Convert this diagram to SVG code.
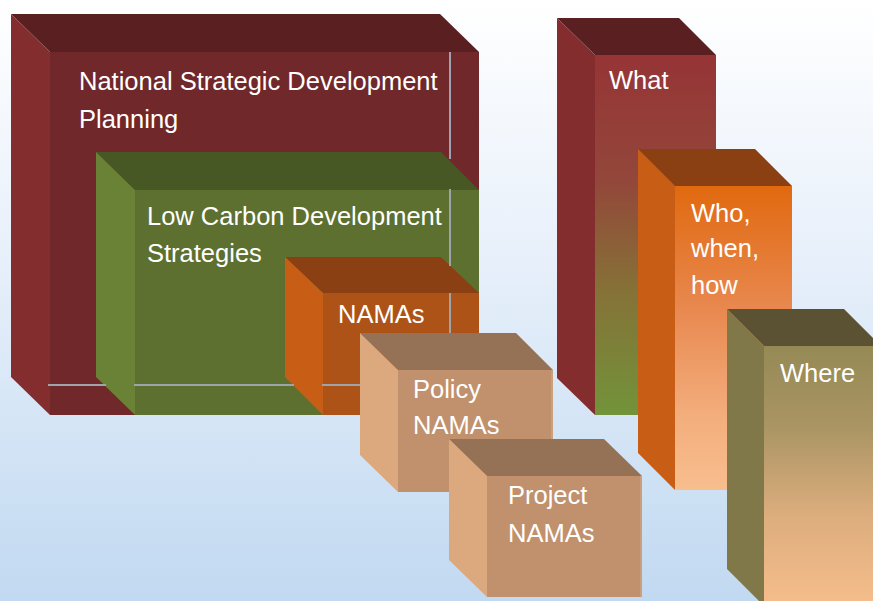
<svg xmlns="http://www.w3.org/2000/svg" width="873" height="601" viewBox="0 0 873 601">
  <defs>
    <linearGradient id="bg" x1="0" y1="0" x2="0" y2="1">
      <stop offset="0" stop-color="#ffffff"/>
      <stop offset="0.45" stop-color="#e6effa"/>
      <stop offset="1" stop-color="#c1d9f1"/>
    </linearGradient>
    <linearGradient id="gWhat" x1="0" y1="0" x2="0" y2="1">
      <stop offset="0" stop-color="#963436"/>
      <stop offset="0.35" stop-color="#93473a"/>
      <stop offset="0.65" stop-color="#867137"/>
      <stop offset="1" stop-color="#72933a"/>
    </linearGradient>
    <linearGradient id="gWho" x1="0" y1="0" x2="0" y2="1">
      <stop offset="0" stop-color="#e1690f"/>
      <stop offset="0.4" stop-color="#e8884f"/>
      <stop offset="0.75" stop-color="#f3ad7c"/>
      <stop offset="1" stop-color="#f8be8e"/>
    </linearGradient>
    <linearGradient id="gWhere" x1="0" y1="0" x2="0" y2="1">
      <stop offset="0" stop-color="#958a55"/>
      <stop offset="0.3" stop-color="#a99463"/>
      <stop offset="0.65" stop-color="#dcad7d"/>
      <stop offset="1" stop-color="#f7bd8c"/>
    </linearGradient>
    <style>
      .lbl { fill: #ffffff; font-family: "Liberation Sans", Arial, sans-serif; font-size: 25.5px; }
      .guide { stroke: #9ea4ab; stroke-width: 2; fill: none; }
      .red-top { fill: #5a1f20; } .red-left { fill: #842d2e; } .red-front { fill: #70282a; }
      .grn-top { fill: #475825; } .grn-left { fill: #6a8235; } .grn-front { fill: #5d7030; }
      .org-top { fill: #8a4012; } .org-left { fill: #c85e16; } .org-front { fill: #ad5317; }
      .tan-top { fill: #957256; } .tan-left { fill: #dca97e; } .tan-front { fill: #c0916c; }
      .tan-edge { stroke: #caa07c; stroke-width: 2; fill: none; }
      .olv-top { fill: #5a5233; } .olv-left { fill: #807849; }
    </style>
  </defs>

  <rect x="0" y="0" width="873" height="601" fill="url(#bg)"/>

  <g id="node-national">
    <polygon class="red-top" points="11,14 440,14 479,52 50,52"/>
    <polygon class="red-left" points="11,14 50,52 50,415 11,377"/>
    <rect class="red-front" x="50" y="52" width="429" height="363"/>
    <text class="lbl" x="79" y="90">National Strategic Development</text>
    <text class="lbl" x="79" y="128">Planning</text>
  </g>

  <g id="node-lowcarbon">
    <polygon class="grn-top" points="96,152 441,152 479,190 135,190"/>
    <polygon class="grn-left" points="96,152 135,190 135,415 96,377"/>
    <rect class="grn-front" x="135" y="190" width="344" height="225"/>
    <text class="lbl" x="147" y="225">Low Carbon Development</text>
    <text class="lbl" x="147" y="262">Strategies</text>
  </g>

  <g id="node-namas">
    <polygon class="org-top" points="285,257 441,257 479,293 323,293"/>
    <polygon class="org-left" points="285,257 323,293 323,415 285,377"/>
    <rect class="org-front" x="323" y="293" width="156" height="122"/>
    <text class="lbl" x="338" y="323">NAMAs</text>
  </g>

  <g id="connectors">
    <line class="guide" x1="450" y1="52" x2="450" y2="159"/>
    <line class="guide" x1="450" y1="189" x2="450" y2="266"/>
    <line class="guide" x1="450" y1="293" x2="450" y2="347"/>
    <line class="guide" x1="48" y1="385" x2="106" y2="385"/>
    <line class="guide" x1="134" y1="385" x2="294" y2="385"/>
    <line class="guide" x1="322" y1="385" x2="369" y2="385"/>
  </g>

  <g id="node-policy">
    <polygon class="tan-top" points="360,333 516,333 553,370 398,370"/>
    <polygon class="tan-left" points="360,333 398,370 398,492 360,455"/>
    <rect class="tan-front" x="398" y="370" width="155" height="122"/>
    <line class="tan-edge" x1="552" y1="370" x2="552" y2="492"/>
    <text class="lbl" x="413" y="398">Policy</text>
    <text class="lbl" x="413" y="434">NAMAs</text>
  </g>

  <g id="node-project">
    <polygon class="tan-top" points="449,439 604,439 642,476 487,476"/>
    <polygon class="tan-left" points="449,439 487,476 487,597 449,560"/>
    <rect class="tan-front" x="487" y="476" width="155" height="121"/>
    <line class="tan-edge" x1="641" y1="476" x2="641" y2="597"/>
    <text class="lbl" x="508" y="504">Project</text>
    <text class="lbl" x="508" y="542">NAMAs</text>
  </g>

  <g id="node-what">
    <polygon class="red-top" points="557,18 679,18 716,55 595,55"/>
    <polygon class="red-left" points="557,18 595,55 595,415 557,378"/>
    <rect x="595" y="55" width="121" height="360" fill="url(#gWhat)"/>
    <text class="lbl" x="609" y="89">What</text>
  </g>

  <g id="node-who">
    <polygon class="org-top" points="638,149 755,149 792,186 675,186"/>
    <polygon class="org-left" points="638,149 675,186 675,490 638,453"/>
    <rect x="675" y="186" width="117" height="304" fill="url(#gWho)"/>
    <text class="lbl" x="691" y="222">Who,</text>
    <text class="lbl" x="691" y="257">when,</text>
    <text class="lbl" x="691" y="294">how</text>
  </g>

  <g id="node-where">
    <polygon class="olv-top" points="727,309 844,309 881,346 764,346"/>
    <polygon class="olv-left" points="727,309 764,346 764,606 727,569"/>
    <rect x="764" y="346" width="120" height="260" fill="url(#gWhere)"/>
    <text class="lbl" x="780" y="382">Where</text>
  </g>
</svg>
